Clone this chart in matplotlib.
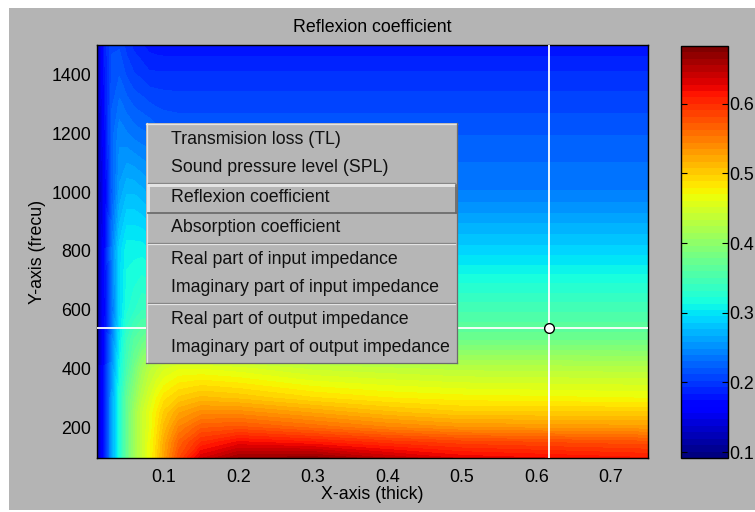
import numpy as np
import matplotlib
matplotlib.use("Agg")
import matplotlib.pyplot as plt
from matplotlib.colors import Normalize
from matplotlib.patches import Rectangle
from matplotlib.lines import Line2D
import matplotlib.cm as cm

# ---------------- data ----------------
thick = [0.01, 0.02, 0.03, 0.04, 0.05, 0.06, 0.07, 0.08, 0.09, 0.10,
         0.12, 0.15, 0.2, 0.3, 0.4, 0.5, 0.75]
freq = [96, 150, 200, 250, 300, 400, 500, 600, 800, 1000, 1200, 1400, 1500]
reflexion = [
    [0.11, 0.18, 0.26, 0.32, 0.37, 0.41, 0.44, 0.465, 0.495, 0.525, 0.58, 0.635, 0.665, 0.67, 0.645, 0.625, 0.61],
    [0.11, 0.18, 0.26, 0.32, 0.37, 0.41, 0.44, 0.465, 0.49, 0.52, 0.565, 0.60, 0.62, 0.61, 0.595, 0.585, 0.575],
    [0.11, 0.18, 0.26, 0.32, 0.37, 0.41, 0.44, 0.46, 0.485, 0.51, 0.545, 0.57, 0.575, 0.56, 0.545, 0.535, 0.53],
    [0.11, 0.18, 0.26, 0.32, 0.37, 0.41, 0.44, 0.46, 0.48, 0.50, 0.525, 0.54, 0.54, 0.525, 0.51, 0.50, 0.50],
    [0.11, 0.18, 0.26, 0.32, 0.37, 0.40, 0.43, 0.45, 0.47, 0.485, 0.50, 0.51, 0.505, 0.49, 0.48, 0.475, 0.47],
    [0.11, 0.18, 0.25, 0.31, 0.35, 0.38, 0.41, 0.43, 0.44, 0.45, 0.46, 0.46, 0.455, 0.44, 0.435, 0.43, 0.428],
    [0.11, 0.17, 0.24, 0.30, 0.34, 0.36, 0.37, 0.38, 0.38, 0.385, 0.39, 0.385, 0.38, 0.378, 0.376, 0.375, 0.375],
    [0.11, 0.17, 0.23, 0.29, 0.32, 0.33, 0.34, 0.34, 0.345, 0.345, 0.348, 0.348, 0.348, 0.348, 0.348, 0.348, 0.348],
    [0.11, 0.17, 0.24, 0.29, 0.31, 0.31, 0.31, 0.305, 0.30, 0.295, 0.29, 0.29, 0.29, 0.29, 0.29, 0.29, 0.29],
    [0.11, 0.16, 0.22, 0.26, 0.275, 0.275, 0.27, 0.265, 0.26, 0.255, 0.25, 0.245, 0.24, 0.24, 0.24, 0.24, 0.24],
    [0.11, 0.17, 0.225, 0.245, 0.24, 0.235, 0.232, 0.23, 0.225, 0.222, 0.22, 0.22, 0.22, 0.22, 0.22, 0.22, 0.22],
    [0.12, 0.18, 0.215, 0.22, 0.21, 0.203, 0.2, 0.195, 0.195, 0.195, 0.195, 0.195, 0.195, 0.195, 0.195, 0.195, 0.195],
    [0.12, 0.185, 0.21, 0.21, 0.198, 0.19, 0.185, 0.18, 0.178, 0.177, 0.177, 0.177, 0.177, 0.177, 0.177, 0.177, 0.177],
]
color_min, color_max = 0.0914, 0.683
x_ticks = [0.1, 0.2, 0.3, 0.4, 0.5, 0.6, 0.7]
y_ticks = [200, 400, 600, 800, 1000, 1200, 1400]
cbar_ticks = [0.1, 0.2, 0.3, 0.4, 0.5, 0.6]
cursor_x, cursor_y = 0.617, 537
menu_items = ["Transmision loss (TL)", "Sound pressure level (SPL)",
              "Reflexion coefficient", "Absorption coefficient",
              "Real part of input impedance", "Imaginary part of input impedance",
              "Real part of output impedance", "Imaginary part of output impedance"]

# ---------------- figure ----------------
FS = 12.8
plt.rcParams['font.family'] = ['Liberation Sans', 'DejaVu Sans']
plt.rcParams['font.size'] = FS
W, H = 755, 512
BG = '#b4b4b4'
fig = plt.figure(figsize=(W / 100, H / 100), dpi=100, facecolor=BG)

def px_rect(x0, y0, x1, y1):
    return [x0 / W, 1 - y1 / H, (x1 - x0) / W, (y1 - y0) / H]

cmap = plt.get_cmap('jet', 64)
ax = fig.add_axes(px_rect(97, 45, 648, 458))
levels = np.linspace(color_min, color_max, 65)
Z = np.array(reflexion)
ax.contourf(thick, freq, Z, levels=levels, cmap=cmap, extend='both',
            antialiased=False)
ax.set_xlim(0.01, 0.75)
ax.set_ylim(96, 1500)
ax.set_xticks(x_ticks)
ax.set_xticklabels([f"{v:g}" for v in x_ticks])
ax.set_yticks(y_ticks)
ax.tick_params(length=0, labelsize=FS)
ax.tick_params(axis='x', pad=8)
ax.tick_params(axis='y', pad=4)
for s in ax.spines.values():
    s.set_linewidth(1.0)
    s.set_color('black')
ax.set_title("Reflexion coefficient", pad=9, fontsize=FS)
ax.set_xlabel("X-axis (thick)", labelpad=0, fontsize=FS)
ax.set_ylabel("Y-axis (frecu)", labelpad=4, fontsize=FS)

# crosshair
ax.axvline(cursor_x, color='white', lw=1.3, zorder=5)
ax.axhline(cursor_y, color='white', lw=1.3, zorder=5)
ax.plot([cursor_x], [cursor_y], 'o', ms=7, mfc='white', mec='black', mew=1.0, zorder=6)

# colorbar
cax = fig.add_axes(px_rect(681, 46, 728, 458))
sm = cm.ScalarMappable(norm=Normalize(color_min, color_max), cmap=cmap)
cb = fig.colorbar(sm, cax=cax, ticks=cbar_ticks)
cb.outline.set_linewidth(1.0)
cb.ax.set_yticklabels([f"{v:g}" for v in cbar_ticks])
cax.tick_params(which='both', direction='in', left=True, right=True,
                length=4, width=0.8, pad=1, labelsize=FS)

# ---------------- overlay in pixel coordinates ----------------
ov = fig.add_axes([0, 0, 1, 1], zorder=20)
ov.set_xlim(0, W)
ov.set_ylim(H, 0)
ov.axis('off')
ov.patch.set_alpha(0)

# white border strips of the screenshot
for r in [(0, 0, W, 8), (0, 0, 9, H), (0, 510, W, 2)]:
    ov.add_patch(Rectangle((r[0], r[1]), r[2], r[3], facecolor='white', edgecolor='none'))

# popup menu
mx0, my0, mx1, my1 = 146, 123, 457, 363
MENU_BG = '#b6b6b6'
LIGHT = '#e4e4e4'
DARK = '#6c6c6c'
ov.add_patch(Rectangle((mx0, my0), mx1 - mx0, my1 - my0, facecolor=MENU_BG, edgecolor='none'))
lw = 0.9
ov.add_line(Line2D([mx0, mx1], [my0 + 0.5, my0 + 0.5], color=LIGHT, lw=lw))
ov.add_line(Line2D([mx0 + 0.5, mx0 + 0.5], [my0, my1], color=LIGHT, lw=lw))
ov.add_line(Line2D([mx0, mx1], [my1 - 0.5, my1 - 0.5], color=DARK, lw=lw))
ov.add_line(Line2D([mx1 - 0.5, mx1 - 0.5], [my0, my1], color=DARK, lw=lw))

for sy in [182.5, 242.5, 302.5]:
    ov.add_line(Line2D([mx0 + 2, mx1 - 2], [sy, sy], color='#7a7a7a', lw=lw))
    ov.add_line(Line2D([mx0 + 2, mx1 - 2], [sy + 1, sy + 1], color=LIGHT, lw=lw))

# highlighted (raised) item
hx0, hy0, hx1, hy1 = 148, 185, 456, 213
ov.add_line(Line2D([hx0, hx1], [hy0 + 0.5, hy0 + 0.5], color='#ececec', lw=1.2))
ov.add_line(Line2D([hx0 + 0.5, hx0 + 0.5], [hy0, hy1], color='#ececec', lw=1.2))
ov.add_line(Line2D([hx0, hx1], [hy1 - 0.5, hy1 - 0.5], color='#666666', lw=1.2))
ov.add_line(Line2D([hx1 - 0.5, hx1 - 0.5], [hy0, hy1], color='#666666', lw=1.2))

item_y = [139, 168, 198, 228, 259, 288, 319, 348]
for label, yy in zip(menu_items, item_y):
    ov.text(171, yy, label, ha='left', va='center', color='#111111', fontsize=FS)

fig.savefig("out.png", dpi=100, facecolor=BG)
